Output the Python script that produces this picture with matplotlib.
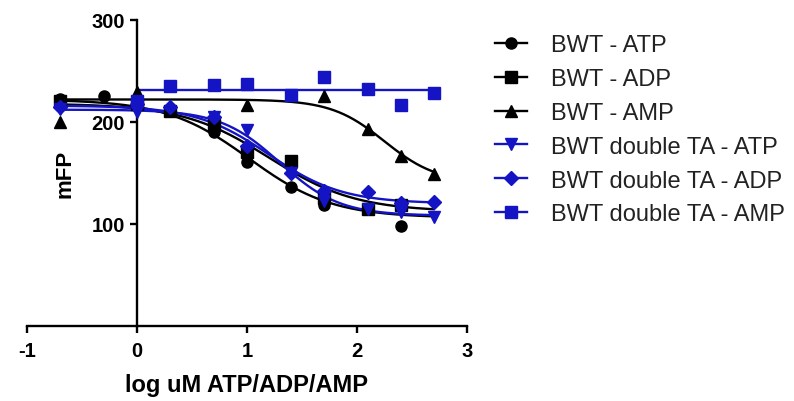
import numpy as np
import matplotlib
matplotlib.use("Agg")
from matplotlib import pyplot as plt

plt.rcParams['font.family'] = ['Liberation Sans', 'DejaVu Sans']
plt.rcParams['axes.unicode_minus'] = False

# log concentrations (uM): 0.2, 0.5, 1, 2, 5, 10, 25, 50, 125, 250, 500
x_all = [-0.699, -0.301, 0.0, 0.301, 0.699, 1.0, 1.398, 1.699, 2.097, 2.398, 2.699]

labels = ["BWT - ATP", "BWT - ADP", "BWT - AMP",
          "BWT double TA - ATP", "BWT double TA - ADP", "BWT double TA - AMP"]

bwt_atp = [222, 225, 220, 213, 190, 161, 136, 118, 115, 98, None]
bwt_adp = [220, None, 218, 211, 197, 170, 162, 125, 115, 118, None]
bwt_amp = [200, None, 229, None, None, 217, None, 225, 193, 167, 149]
dta_atp = [213, None, 210, None, 205, 192, 150, 122, 115, 112, 107]
dta_adp = [215, None, 218, 215, 205, 176, 150, 132, 131, 120, 121]
dta_amp = [None, None, 220, 235, 236, 237, 226, 244, 232, 217, 228]

# fitted curves: top, bottom, logIC50, hill (None -> flat line)
fits = [(222, 106, 1.02, 1.15),
        (218, 112, 1.2, 1.1),
        (222, 140, 2.25, 1.8),
        (212, 108, 1.3, 1.6),
        (216, 120, 1.2, 1.3),
        (231, None, None, None)]

series = [bwt_atp, bwt_adp, bwt_amp, dta_atp, dta_adp, dta_amp]
markers = ['o', 's', '^', 'v', 'D', 's']
msizes = [8, 8, 8, 8, 7, 8]
blue = '#1414c4'
colors = ['black', 'black', 'black', blue, blue, blue]

fig = plt.figure(figsize=(7.94, 4.02), dpi=100)
ax = fig.add_axes([0.034, 0.187, 0.554, 0.761])

xc = np.linspace(-0.699, 2.699, 300)
for i in range(6):
    top, bottom, ic, hill = fits[i]
    if bottom is None:
        xx = np.array([0.0, 2.699])
        yy = np.array([top, top])
    else:
        xx = xc
        yy = bottom + (top - bottom) / (1 + 10 ** ((xx - ic) * hill))
    ax.plot(xx, yy, color=colors[i], lw=1.7, clip_on=False)
    px = [x for x, v in zip(x_all, series[i]) if v is not None]
    py = [v for v in series[i] if v is not None]
    ax.plot(px, py, linestyle='none', marker=markers[i], ms=msizes[i],
            color=colors[i], clip_on=False, zorder=3)

handles = [plt.Line2D([], [], color=colors[i], marker=markers[i], ms=msizes[i], lw=1.7)
           for i in range(6)]
fig.legend(handles, labels, loc='upper left', bbox_to_anchor=(0.597, 0.965),
           frameon=False, fontsize=17, handlelength=1.35, handletextpad=1.0,
           labelspacing=0.5, labelcolor='#222222')

ax.set_xlim(-1, 3)
ax.set_ylim(0, 300)
ax.spines['top'].set_visible(False)
ax.spines['right'].set_visible(False)
ax.spines['left'].set_position(('data', 0))
ax.spines['left'].set_linewidth(1.7)
ax.spines['bottom'].set_linewidth(1.7)
ax.set_xticks([-1, 0, 1, 2, 3])
ax.set_yticks([100, 200, 300])
ax.tick_params(width=1.7, length=5, labelsize=14.5)
ax.tick_params(axis='x', pad=6)
for t in ax.get_xticklabels() + ax.get_yticklabels():
    t.set_fontweight('bold')
ax.set_xlabel("log uM ATP/ADP/AMP", fontsize=17, fontweight='bold', labelpad=9)
ax.set_ylabel("mFP", fontsize=16, fontweight='bold')
ax.yaxis.set_label_coords(0.11, 0.5)
ax.patch.set_visible(False)

fig.savefig("out.png", dpi=100)
